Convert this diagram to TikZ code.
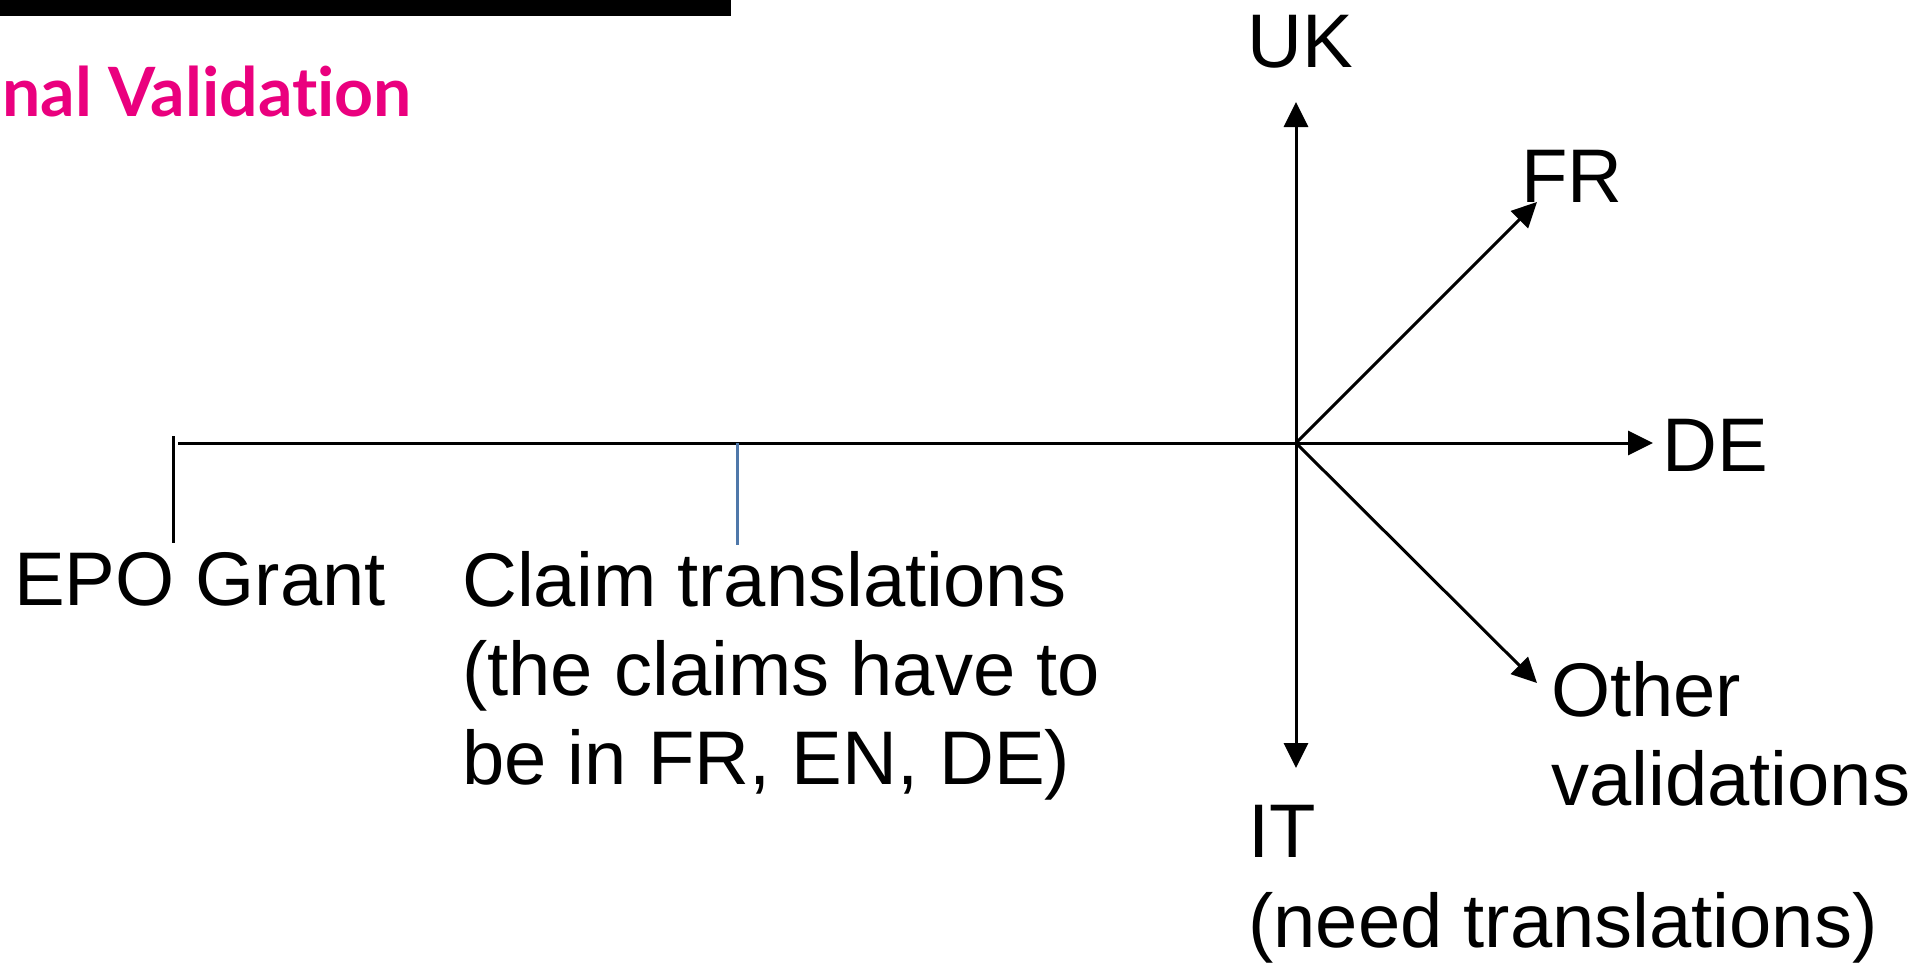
\documentclass[tikz,border=0pt]{standalone}
\usepackage{fontspec}
\setmainfont{Liberation Sans}
\newfontfamily\titlefont[Ligatures=NoCommon]{Lato}
\usetikzlibrary{arrows.meta}
\definecolor{titlepink}{RGB}{234,0,126}
\definecolor{tickblue}{RGB}{79,120,170}
\begin{document}
\begin{tikzpicture}[x=1pt,y=-1pt,
  lbl/.style={inner sep=0pt, anchor=base west, font=\fontsize{76}{89}\selectfont, align=left},
  arr/.style={line width=3pt, -{Triangle[length=25pt,width=24pt]}},
  tickline/.style={line width=3pt}]
\useasboundingbox (0,0) rectangle (1924,962);
% header bar and title
\fill[black] (0,0) rectangle (731,16);
\node[font=\titlefont\bfseries\fontsize{68}{80}\selectfont, text=titlepink, anchor=base east, inner sep=0pt] (title) at (412,116) {nal Validation};
% coordinates
\coordinate (c) at (1296,443);
\coordinate (hstart) at (178,443);
\coordinate (uktip) at (1296,102);
\coordinate (frtip) at (1537,202);
\coordinate (detip) at (1653,443);
\coordinate (othtip) at (1537,683);
\coordinate (ittip) at (1296,768);
\coordinate (t1a) at (173,436);
\coordinate (t1b) at (173,543);
\coordinate (t2a) at (737,443);
\coordinate (t2b) at (737,545);
% lines
\draw[arr] (hstart) -- (detip);
\draw[tickline] (t1a) -- (t1b);
\draw[tickline, tickblue] (t2a) -- (t2b);
\draw[arr] (c) -- (uktip);
\draw[arr] (c) -- (frtip);
\draw[arr] (c) -- (othtip);
\draw[arr] (c) -- (ittip);
% labels (multi-line nodes: base = baseline of the last line)
\node[lbl] (uk) at (1247,67) {UK};
\node[lbl] (fr) at (1521,202) {FR};
\node[lbl] (de) at (1662,471) {DE};
\node[lbl] (epo) at (14,605) {EPO Grant};
\node[lbl] (claim) at (462,784) {Claim translations\\(the claims have to\\be in FR, EN, DE)};
\node[lbl] (other) at (1551,805) {Other\\validations};
\node[lbl, font=\fontsize{76}{90}\selectfont] (it) at (1248,947) {IT\\(need translations)};
\end{tikzpicture}
\end{document}
